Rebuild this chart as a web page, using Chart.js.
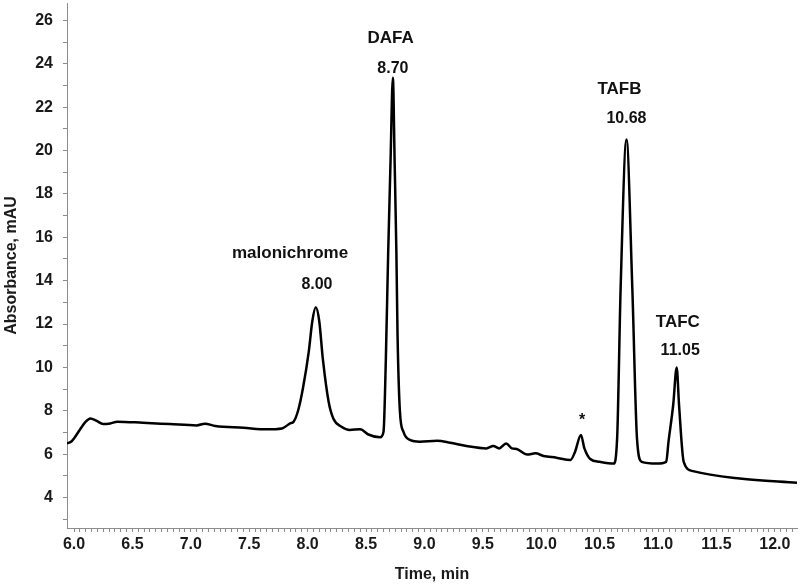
<!DOCTYPE html>
<html>
<head>
<meta charset="utf-8">
<script src="https://cdn.jsdelivr.net/npm/chart.js@4/dist/chart.umd.min.js"></script>
<style>
  html, body { margin: 0; padding: 0; background: #fff; }
  #wrap { width: 800px; height: 587px; }
</style>
</head>
<body>
<div id="wrap"><canvas id="chartCanvas"></canvas></div>
<script>
// chromatogram trace (time in min, absorbance in mAU)
const times = [5.94, 5.98, 6.05, 6.10, 6.14, 6.19, 6.25, 6.31, 6.37, 6.59, 6.82, 7.05, 7.12, 7.21, 7.45, 7.65,
  7.78, 7.85, 7.88, 7.92, 7.96, 8.01, 8.04, 8.07, 8.10, 8.13, 8.18, 8.22, 8.29, 8.36, 8.45, 8.52, 8.62, 8.65,
  8.67, 8.69, 8.71, 8.73, 8.745, 8.76, 8.77, 8.79, 8.82, 8.88, 8.96, 9.11, 9.22, 9.36, 9.53, 9.59, 9.64, 9.70,
  9.75, 9.79, 9.88, 9.95, 10.02, 10.13, 10.25, 10.29, 10.34, 10.37, 10.42, 10.50, 10.62, 10.65, 10.68, 10.73,
  10.78, 10.82, 10.86, 10.99, 11.07, 11.09, 11.13, 11.16, 11.18, 11.22, 11.30, 11.70, 12.19];
const absorbance = [6.50, 6.60, 7.13, 7.50, 7.65, 7.55, 7.39, 7.42, 7.50, 7.45, 7.39, 7.33, 7.41, 7.30, 7.22, 7.15,
  7.19, 7.42, 7.50, 8.04, 9.04, 10.73, 12.12, 12.77, 12.12, 10.42, 8.42, 7.65, 7.27, 7.12, 7.15, 6.91, 6.78, 7.04,
  10.42, 15.34, 19.5, 23.36, 19.5, 15.34, 11.5, 8.0, 7.04, 6.65, 6.58, 6.62, 6.53, 6.38, 6.27, 6.38, 6.27, 6.50,
  6.27, 6.24, 5.99, 6.04, 5.92, 5.84, 5.73, 6.12, 6.89, 6.27, 5.78, 5.65, 5.57, 6.73, 13.66, 20.51,
  13.66, 6.73, 5.65, 5.57, 5.65, 6.58, 8.27, 10.0, 8.28, 5.65, 5.22, 4.88, 4.68];

const xMajorTicks = [6.0, 6.5, 7.0, 7.5, 8.0, 8.5, 9.0, 9.5, 10.0, 10.5, 11.0, 11.5, 12.0];
const yMajorTicks = [4, 6, 8, 10, 12, 14, 16, 18, 20, 22, 24, 26];

// peak labels: [text, time, absorbance, font size]
const peakLabels = [
  ["malonichrome", 7.85, 15.24, 17],
  ["8.00", 8.08, 13.81, 16],
  ["DAFA", 8.71, 25.19, 17],
  ["8.70", 8.73, 23.76, 16],
  ["TAFB", 10.67, 22.84, 17],
  ["10.68", 10.73, 21.46, 16],
  ["TAFC", 11.17, 12.06, 17],
  ["11.05", 11.19, 10.77, 16],
  ["*", 10.35, 7.55, 16]
];

const FONT = "'Liberation Sans', Arial, sans-serif";
const AXIS_GREY = "#8c8c8c";

const labelPlugin = {
  id: "peakLabels",
  afterDatasetsDraw(chart) {
    const ctx = chart.ctx;
    const xs = chart.scales.x, ys = chart.scales.y;
    ctx.save();
    ctx.fillStyle = "#111";
    ctx.textAlign = "center";
    ctx.textBaseline = "middle";
    peakLabels.forEach(([txt, t, a, size]) => {
      ctx.font = `bold ${size}px ${FONT}`;
      ctx.fillText(txt, xs.getPixelForValue(t), ys.getPixelForValue(a));
    });
    ctx.restore();
  }
};

function isMajor(v, list) {
  return list.some(m => Math.abs(m - v) < 1e-6);
}

const ctx = document.getElementById("chartCanvas").getContext("2d");
new Chart(ctx, {
  type: "line",
  data: {
    datasets: [{
      data: times.map((t, i) => ({ x: t, y: absorbance[i] })),
      borderColor: "#000",
      borderWidth: 2.5,
      pointRadius: 0,
      cubicInterpolationMode: "monotone",
      fill: false
    }]
  },
  options: {
    responsive: true,
    maintainAspectRatio: false,
    animation: false,
    layout: { padding: { top: 3, right: 3, left: 0, bottom: 0 } },
    plugins: { legend: { display: false }, tooltip: { enabled: false } },
    scales: {
      x: {
        type: "linear",
        min: 5.94,
        max: 12.19,
        afterBuildTicks(scale) {
          const ticks = [];
          for (let i = 0; i <= 123; i++) ticks.push({ value: Math.round((6 + i * 0.05) * 100) / 100 });
          scale.ticks = ticks;
        },
        afterFit(scale) {
          scale.height = 59;
          scale.paddingLeft = 0;
          scale.paddingRight = 0;
        },
        border: { display: true, color: AXIS_GREY, width: 1 },
        grid: { drawOnChartArea: false, drawTicks: true, tickLength: 4, color: AXIS_GREY },
        ticks: {
          autoSkip: false,
          maxRotation: 0,
          padding: 3,
          color: "#1a1a1a",
          font: { family: FONT, size: 16, weight: "bold" },
          callback: v => isMajor(v, xMajorTicks) ? v.toFixed(1) : ""
        },
        title: {
          display: true,
          text: "Time, min",
          color: "#1a1a1a",
          font: { family: FONT, size: 16, weight: "bold" },
          padding: { top: 0, bottom: 3 }
        }
      },
      y: {
        min: 2.6,
        max: 26.8,
        afterBuildTicks(scale) {
          const ticks = [];
          for (let v = 3; v <= 26; v++) ticks.push({ value: v });
          scale.ticks = ticks;
        },
        afterFit(scale) {
          scale.width = 67;
          scale.paddingTop = 0;
          scale.paddingBottom = 0;
        },
        border: { display: true, color: AXIS_GREY, width: 1 },
        grid: { drawOnChartArea: false, drawTicks: true, tickLength: 4, color: AXIS_GREY },
        ticks: {
          autoSkip: false,
          padding: 10,
          color: "#1a1a1a",
          font: { family: FONT, size: 16, weight: "bold" },
          callback: v => isMajor(v, yMajorTicks) ? String(v) : ""
        },
        title: {
          display: true,
          text: "Absorbance, mAU",
          color: "#1a1a1a",
          font: { family: FONT, size: 16, weight: "bold" },
          padding: { top: 2, bottom: 0 }
        }
      }
    }
  },
  plugins: [labelPlugin]
});
</script>
</body>
</html>
